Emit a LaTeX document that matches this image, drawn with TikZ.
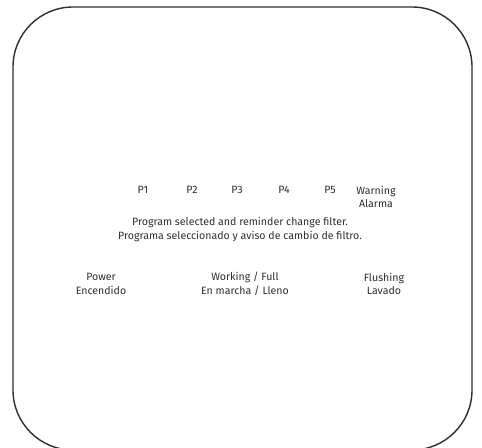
\documentclass[tikz,border=0pt]{standalone}
\usepackage{fontspec}
\setmainfont{Fira Sans}
\definecolor{ink}{HTML}{2E2E2E}
\tikzset{
  lbl/.style={text=ink, font=\fontsize{10.6bp}{13.8bp}\selectfont, align=center, inner sep=0pt, anchor=center},
  frame/.style={draw=ink, line width=1.4bp, rounded corners=60bp}
}
\begin{document}
\begin{tikzpicture}[x=1bp,y=-1bp]
\useasboundingbox (0,0) rectangle (482,448);
\begin{scope}
\clip (0,0) rectangle (482,448);
\draw[frame] (13,7) rectangle (472,450);
\end{scope}
\node[lbl] (p1) at (143,190) {P1};
\node[lbl] (p2) at (192,190) {P2};
\node[lbl] (p3) at (237,190) {P3};
\node[lbl] (p4) at (284,190) {P4};
\node[lbl] (p5) at (330,190) {P5};
\node[lbl] (warn) at (376,197) {Warning\\Alarma};
\node[lbl] (prog) at (240,229.5) {Program selected and reminder change filter.\\Programa seleccionado y aviso de cambio de filtro.};
\node[lbl] (power) at (101,284) {Power\\Encendido};
\node[lbl] (work) at (245,284) {Working / Full\\En marcha / Lleno};
\node[lbl] (flush) at (384,284) {Flushing\\Lavado};
\end{tikzpicture}
\end{document}
